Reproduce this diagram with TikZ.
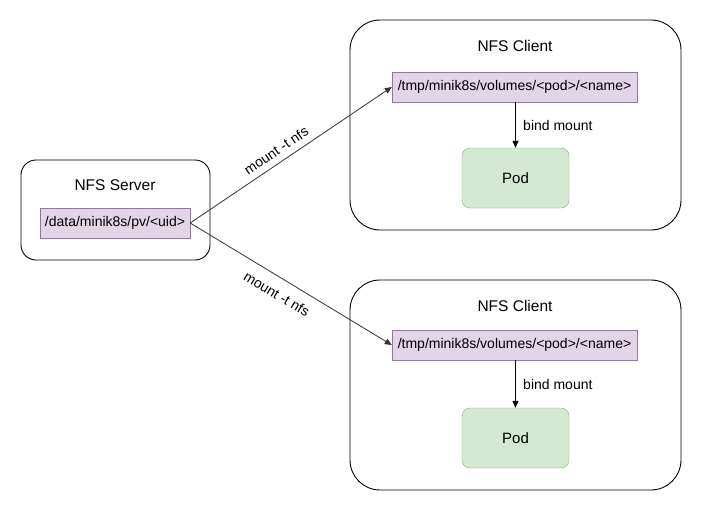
\documentclass[tikz,border=0pt]{standalone}
\usepackage{fontspec}
\setmainfont{Liberation Sans}
\usetikzlibrary{arrows.meta,positioning}

\definecolor{pathfill}{HTML}{E1D5E7}
\definecolor{pathdraw}{HTML}{9673A6}
\definecolor{podfill}{HTML}{D5E8D4}
\definecolor{poddraw}{HTML}{82B366}
\definecolor{linkgray}{HTML}{333333}

\tikzset{
  hostbox/.style={draw, rounded corners=#1, line width=0.9pt},
  pathbox/.style={draw=pathdraw, fill=pathfill, minimum height=30pt, inner sep=0pt, font=\fontsize{14}{16}\selectfont},
  podbox/.style={draw=poddraw, fill=podfill, rounded corners=8pt, minimum width=107pt, minimum height=60pt, font=\fontsize{15}{18}\selectfont},
  title/.style={font=\fontsize{15.5}{18}\selectfont},
  small/.style={font=\fontsize{14}{16}\selectfont},
  link/.style={draw=linkgray, line width=0.8pt, -{Triangle[length=7pt,width=6pt]}}
}

\begin{document}
\begin{tikzpicture}[x=1pt,y=-1pt]
  \useasboundingbox (0,0) rectangle (701,511);
  % hosts
  \draw[hostbox=15pt] (21,160) rectangle (210,260);
  \draw[hostbox=30pt] (350,20) rectangle (681,230);
  \draw[hostbox=30pt] (350,280) rectangle (681,490);
  \node[title] (server) at (115,185) {NFS Server};
  \node[title] (clientA) at (515,46) {NFS Client};
  \node[title] (clientB) at (515,306) {NFS Client};
  % paths
  \node[pathbox, minimum width=150pt] (pv) at (115,223) {/data/minik8s/pv/<uid>};
  \node[pathbox, minimum width=245pt] (volA) at (514.5,87) {/tmp/minik8s/volumes/<pod>/<name>};
  \node[pathbox, minimum width=245pt] (volB) at (514.5,345) {/tmp/minik8s/volumes/<pod>/<name>};
  % pods
  \node[podbox] (podA) at (515.5,178) {Pod};
  \node[podbox] (podB) at (515.5,438) {Pod};
  % edges
  \draw[link] (pv.east) -- node[small, sloped, pos=0.46, above=3pt] {mount -t nfs} (volA.west);
  \draw[link] (pv.east) -- node[small, sloped, pos=0.47, below=7pt] {mount -t nfs} (volB.west);
  \draw[link, draw=black] (volA.south -| podA.north) -- node[small, right=4pt] {bind mount} (podA.north);
  \draw[link, draw=black] (volB.south -| podB.north) -- node[small, right=4pt] {bind mount} (podB.north);
\end{tikzpicture}
\end{document}
